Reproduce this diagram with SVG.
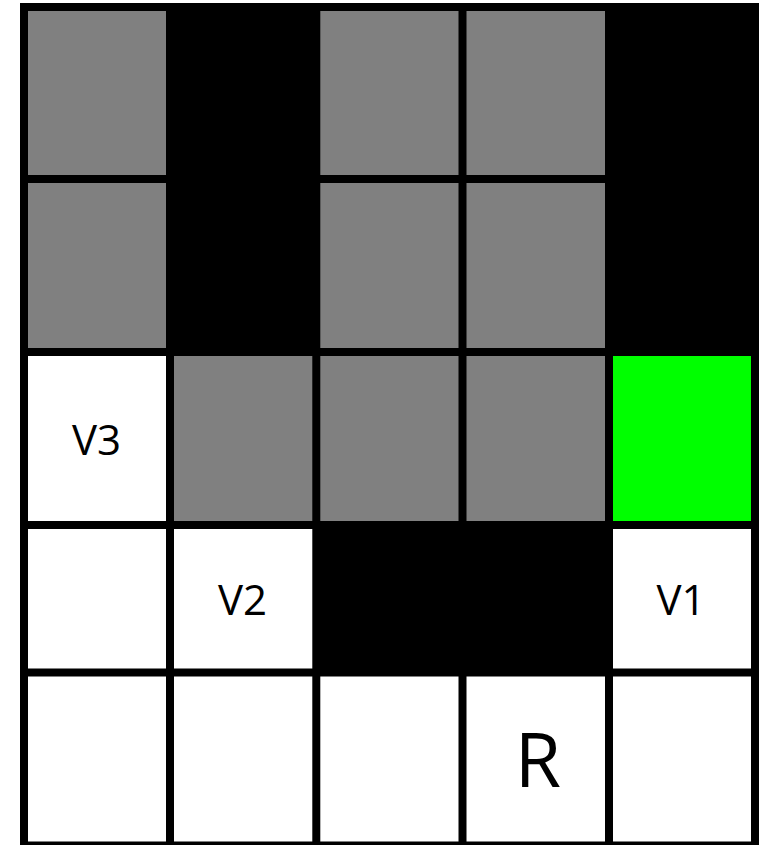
<svg xmlns="http://www.w3.org/2000/svg" width="768" height="845" viewBox="0 0 768 845">
  <style>
    .w { fill: #ffffff; }
    .g { fill: #808080; }
    .k { fill: #000000; }
    .gr { fill: #00ff00; }
    .ln { stroke: #000000; stroke-width: 8; fill: none; }
    .lb { font-family: "Open Sans", "Liberation Sans", sans-serif; fill: #000000; text-anchor: middle; }
  </style>
  <rect x="0" y="0" width="768" height="845" fill="#ffffff"/>
  <g id="cells">
    <!-- row 1 -->
    <g id="r1c1"><rect class="g" x="24" y="7" width="146" height="172"/></g>
    <g id="r1c2"><rect class="k" x="170" y="7" width="146.3" height="172"/></g>
    <g id="r1c3"><rect class="g" x="316.3" y="7" width="146.2" height="172"/></g>
    <g id="r1c4"><rect class="g" x="462.5" y="7" width="146.5" height="172"/></g>
    <g id="r1c5"><rect class="k" x="609" y="7" width="146" height="172"/></g>
    <!-- row 2 -->
    <g id="r2c1"><rect class="g" x="24" y="179" width="146" height="173"/></g>
    <g id="r2c2"><rect class="k" x="170" y="179" width="146.3" height="173"/></g>
    <g id="r2c3"><rect class="g" x="316.3" y="179" width="146.2" height="173"/></g>
    <g id="r2c4"><rect class="g" x="462.5" y="179" width="146.5" height="173"/></g>
    <g id="r2c5"><rect class="k" x="609" y="179" width="146" height="173"/></g>
    <!-- row 3 -->
    <g id="V3"><rect class="w" x="24" y="352" width="146" height="173"/>
      <text class="lb" x="96.5" y="455" font-size="42">V3</text></g>
    <g id="r3c2"><rect class="g" x="170" y="352" width="146.3" height="173"/></g>
    <g id="r3c3"><rect class="g" x="316.3" y="352" width="146.2" height="173"/></g>
    <g id="r3c4"><rect class="g" x="462.5" y="352" width="146.5" height="173"/></g>
    <g id="r3c5"><rect class="gr" x="609" y="352" width="146" height="173"/></g>
    <!-- row 4 -->
    <g id="r4c1"><rect class="w" x="24" y="525" width="146" height="147.5"/></g>
    <g id="V2"><rect class="w" x="170" y="525" width="146.3" height="147.5"/>
      <text class="lb" x="242.5" y="615" font-size="42">V2</text></g>
    <g id="r4c3"><rect class="k" x="316.3" y="525" width="146.2" height="147.5"/></g>
    <g id="r4c4"><rect class="k" x="462.5" y="525" width="146.5" height="147.5"/></g>
    <g id="V1"><rect class="w" x="609" y="525" width="146" height="147.5"/>
      <text class="lb" x="681" y="615" font-size="42">V1</text></g>
    <!-- row 5 -->
    <g id="r5c1"><rect class="w" x="24" y="672.5" width="146" height="173"/></g>
    <g id="r5c2"><rect class="w" x="170" y="672.5" width="146.3" height="173"/></g>
    <g id="r5c3"><rect class="w" x="316.3" y="672.5" width="146.2" height="173"/></g>
    <g id="R"><rect class="w" x="462.5" y="672.5" width="146.5" height="173"/>
      <text class="lb" x="538" y="787" font-size="75">R</text></g>
    <g id="r5c5"><rect class="w" x="609" y="672.5" width="146" height="173"/></g>
  </g>
  <g id="grid">
    <line class="ln" x1="24" y1="3" x2="24" y2="850"/>
    <line class="ln" x1="170" y1="3" x2="170" y2="850"/>
    <line class="ln" x1="316.3" y1="3" x2="316.3" y2="850"/>
    <line class="ln" x1="462.5" y1="3" x2="462.5" y2="850"/>
    <line class="ln" x1="609" y1="3" x2="609" y2="850"/>
    <line class="ln" x1="755" y1="3" x2="755" y2="850"/>
    <line class="ln" x1="20" y1="7" x2="759" y2="7"/>
    <line class="ln" x1="20" y1="179" x2="759" y2="179"/>
    <line class="ln" x1="20" y1="352" x2="759" y2="352"/>
    <line class="ln" x1="20" y1="525" x2="759" y2="525"/>
    <line class="ln" x1="20" y1="672.5" x2="759" y2="672.5"/>
    <line class="ln" x1="20" y1="845.5" x2="759" y2="845.5"/>
  </g>
</svg>
